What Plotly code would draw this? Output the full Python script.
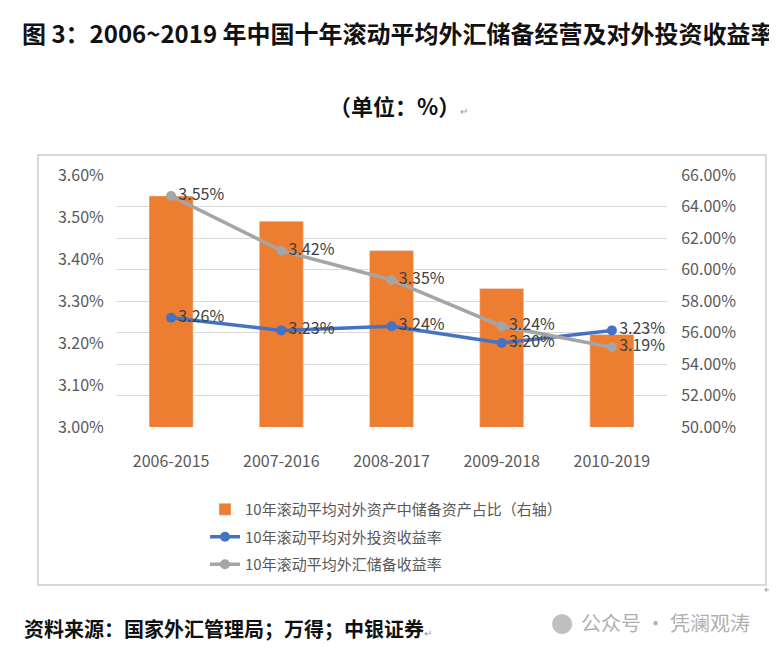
import plotly.graph_objects as go

# categories and series (percent units)
periods = ['2006-2015', '2007-2016', '2008-2017', '2009-2018', '2010-2019']
reserve_share = [64.67, 63.07, 61.20, 58.80, 55.87]      # bars, right axis
invest_yield = [3.26, 3.23, 3.24, 3.20, 3.23]            # blue line, left axis
fx_reserve_yield = [3.55, 3.42, 3.35, 3.24, 3.19]        # gray line, left axis

names = ['10年滚动平均对外资产中储备资产占比（右轴）',
         '10年滚动平均对外投资收益率',
         '10年滚动平均外汇储备收益率']

OFF = 8                       # page body margin
W, H = 777 - OFF, 653 - OFF
L, R, T, B = 116, 667, 175, 427   # plot area in screen pixels


def px(x):
    return (x - L) / (R - L)


def py(y):
    return (B - y) / (B - T)


fig = go.Figure()

# bars on yaxis (shown on the right), lines on yaxis2 (left) so lines sit on top
fig.add_trace(go.Bar(x=periods, y=reserve_share, name=names[0],
                     marker_color='#ED7D31', yaxis='y', legendgroup='a'))

fig.add_trace(go.Scatter(x=periods, y=invest_yield, name=names[1], yaxis='y2',
                         mode='lines+markers+text', legendgroup='b',
                         line=dict(color='#4472C4', width=3.5),
                         marker=dict(size=10, color='#4472C4'),
                         texttemplate='%{y:.2f}%', textposition='middle right',
                         textfont=dict(size=16, color='#404040'), cliponaxis=False))

fig.add_trace(go.Scatter(x=periods, y=fx_reserve_yield, name=names[2], yaxis='y2',
                         mode='lines+markers+text', legendgroup='c',
                         line=dict(color='#A5A5A5', width=3.5),
                         marker=dict(size=10, color='#A5A5A5'),
                         texttemplate='%{y:.2f}%', textposition='middle right',
                         textfont=dict(size=16, color='#404040'), cliponaxis=False))

hidden_tick = dict(ticks='outside', tickcolor='rgba(0,0,0,0)')

fig.update_layout(
    width=W, height=H,
    margin=dict(l=L - OFF, r=W - (R - OFF), t=T - OFF, b=H - (B - OFF), autoexpand=False),
    paper_bgcolor='white', plot_bgcolor='white',
    font=dict(family='Noto Sans CJK SC, Noto Sans, sans-serif', color='#595959', size=16),
    bargap=0.6,
    showlegend=True,
    xaxis=dict(showgrid=False, showline=False, ticklen=20, **hidden_tick,
               tickfont=dict(size=16, color='#595959')),
    yaxis=dict(side='right', range=[50, 66], dtick=2, tickformat='.2f', ticksuffix='%',
               showgrid=True, gridcolor='#D9D9D9', gridwidth=1, zeroline=False,
               ticklen=10, **hidden_tick,
               tickfont=dict(size=16, color='#595959')),
    yaxis2=dict(side='left', overlaying='y', range=[3.0, 3.6], dtick=0.1, tickformat='.2f',
                ticksuffix='%', showgrid=False, zeroline=False, ticklen=8, **hidden_tick,
                tickfont=dict(size=16, color='#595959')),
    legend=dict(x=px(205), y=py(493), xanchor='left', yanchor='top',
                font=dict(size=15, color='#595959'), tracegroupgap=5,
                bgcolor='rgba(0,0,0,0)'),
)

# outer chart frame
fig.add_shape(type='rect', xref='paper', yref='paper',
              x0=px(38), x1=px(766), y0=py(585), y1=py(155),
              line=dict(color='#D9D9D9', width=2), fillcolor='rgba(0,0,0,0)', layer='below')

ret = "<span style='font-size:10px;color:#999999'>↵</span>"

fig.add_annotation(text='<b>图 3：2006~2019 年中国十年滚动平均外汇储备经营及对外投资收益率</b>',
                   xref='paper', yref='paper', x=px(20), y=py(32), xanchor='left', yanchor='middle',
                   showarrow=False, font=dict(size=24, color='#111111'))
fig.add_annotation(text='<b>（单位：%）</b>' + ret,
                   xref='paper', yref='paper', x=px(398), y=py(105), xanchor='center', yanchor='middle',
                   showarrow=False, font=dict(size=22, color='#111111'))
fig.add_annotation(text='<b>资料来源：国家外汇管理局；万得；中银证券</b>' + ret,
                   xref='paper', yref='paper', x=px(22), y=py(628), xanchor='left', yanchor='middle',
                   showarrow=False, font=dict(size=20, color='#111111'))
fig.add_annotation(text='公众号 · 凭澜观涛',
                   xref='paper', yref='paper', x=px(752), y=py(622), xanchor='right', yanchor='middle',
                   showarrow=False, font=dict(size=20, color='#B0B0B0'))
fig.add_annotation(text='●',
                   xref='paper', yref='paper', x=px(562), y=py(622), xanchor='center', yanchor='middle',
                   showarrow=False, font=dict(size=22, color='#C0C0C0'))
fig.add_annotation(text=ret, xref='paper', yref='paper', x=px(762), y=py(588),
                   xanchor='left', yanchor='middle', showarrow=False)

fig.write_html('out.html')
